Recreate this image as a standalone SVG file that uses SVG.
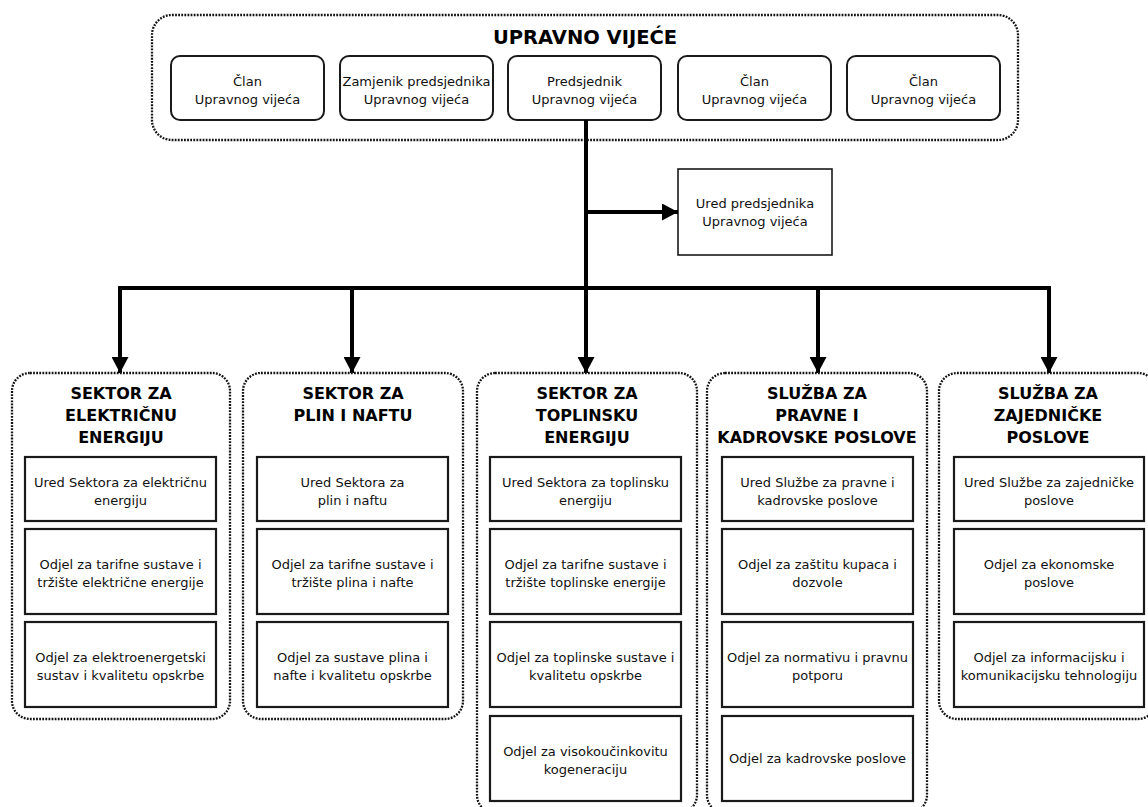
<svg xmlns="http://www.w3.org/2000/svg" width="1148" height="807" viewBox="0 0 1148 807">
<defs>
<style>
.dot{fill:none;stroke:#111;stroke-width:2.3;stroke-dasharray:1.8 1.3}
.mem{fill:#fff;stroke:#1a1a1a;stroke-width:2}
.box{fill:#fff;stroke:#1a1a1a;stroke-width:2.2}
.t{font-family:"DejaVu Sans",Verdana,sans-serif;font-size:13px;fill:#111;text-anchor:middle}
.ts{font-size:13px}
.h{font-family:"DejaVu Sans",Verdana,sans-serif;font-weight:bold;font-size:16px;fill:#000;text-anchor:middle}
.conn{stroke:#000;stroke-width:4;fill:none}
</style>
<marker id="ah" markerUnits="userSpaceOnUse" markerWidth="16" markerHeight="17" viewBox="0 0 16 17" refX="16" refY="8.5" orient="auto">
<path d="M0,0 L16,8.5 L0,17 Z" fill="#000"/>
</marker>
</defs>
<rect width="1148" height="807" fill="#fff"/>

<g id="upravno-vijece">
<rect class="dot" x="152" y="15" width="866" height="125" rx="20"/>
<text class="h" x="585" y="44" style="font-size:19.5px">UPRAVNO VIJEĆE</text>
</g>
<g id="clan1"><rect class="mem" x="171" y="56" width="153" height="64" rx="9"/><text class="t ts" x="247.5" y="86">Član</text><text class="t ts" x="247.5" y="104">Upravnog vijeća</text></g>
<g id="zamjenik"><rect class="mem" x="340" y="56" width="153" height="64" rx="9"/><text class="t ts" x="416.5" y="86">Zamjenik predsjednika</text><text class="t ts" x="416.5" y="104">Upravnog vijeća</text></g>
<g id="predsjednik"><rect class="mem" x="508" y="56" width="153" height="64" rx="9"/><text class="t ts" x="584.5" y="86">Predsjednik</text><text class="t ts" x="584.5" y="104">Upravnog vijeća</text></g>
<g id="clan2"><rect class="mem" x="678" y="56" width="153" height="64" rx="9"/><text class="t ts" x="754.5" y="86">Član</text><text class="t ts" x="754.5" y="104">Upravnog vijeća</text></g>
<g id="clan3"><rect class="mem" x="847" y="56" width="153" height="64" rx="9"/><text class="t ts" x="923.5" y="86">Član</text><text class="t ts" x="923.5" y="104">Upravnog vijeća</text></g>

<g id="ured-predsjednika"><rect x="678" y="169" width="154" height="86" fill="#fff" stroke="#1a1a1a" stroke-width="1.6"/><text class="t ts" x="755" y="208">Ured predsjednika</text><text class="t ts" x="755" y="226">Upravnog vijeća</text></g>

<g id="connectors">
<path class="conn" d="M586,120 V373" marker-end="url(#ah)"/>
<path class="conn" d="M586,212 H678" marker-end="url(#ah)"/>
<path class="conn" d="M118,288 H1051"/>
<path class="conn" d="M120,286 V373" marker-end="url(#ah)"/>
<path class="conn" d="M352,288 V373" marker-end="url(#ah)"/>
<path class="conn" d="M818,288 V373" marker-end="url(#ah)"/>
<path class="conn" d="M1049,286 V373" marker-end="url(#ah)"/>
</g>

<g id="sektor-elektricna">
<rect class="dot" x="12" y="373" width="218" height="346" rx="18"/>
<text class="h" x="121" y="399">SEKTOR ZA</text><text class="h" x="121" y="421">ELEKTRIČNU</text><text class="h" x="121" y="443">ENERGIJU</text>
<rect class="box" x="25" y="457" width="191" height="64"/><text class="t" x="120.5" y="486.5">Ured Sektora za električnu</text><text class="t" x="120.5" y="504.5">energiju</text>
<rect class="box" x="25" y="529" width="191" height="85"/><text class="t" x="120.5" y="569">Odjel za tarifne sustave i</text><text class="t" x="120.5" y="587">tržište električne energije</text>
<rect class="box" x="25" y="622" width="191" height="85"/><text class="t" x="120.5" y="662">Odjel za elektroenergetski</text><text class="t" x="120.5" y="680">sustav i kvalitetu opskrbe</text>
</g>

<g id="sektor-plin">
<rect class="dot" x="243" y="373" width="220" height="346" rx="18"/>
<text class="h" x="353" y="399">SEKTOR ZA</text><text class="h" x="353" y="421">PLIN I NAFTU</text>
<rect class="box" x="257" y="457" width="191" height="64"/><text class="t" x="352.5" y="486.5">Ured Sektora za</text><text class="t" x="352.5" y="504.5">plin i naftu</text>
<rect class="box" x="257" y="529" width="191" height="85"/><text class="t" x="352.5" y="569">Odjel za tarifne sustave i</text><text class="t" x="352.5" y="587">tržište plina i nafte</text>
<rect class="box" x="257" y="622" width="191" height="85"/><text class="t" x="352.5" y="662">Odjel za sustave plina i</text><text class="t" x="352.5" y="680">nafte i kvalitetu opskrbe</text>
</g>

<g id="sektor-toplinska">
<rect class="dot" x="477" y="373" width="220" height="440" rx="18"/>
<text class="h" x="587" y="399">SEKTOR ZA</text><text class="h" x="587" y="421">TOPLINSKU</text><text class="h" x="587" y="443">ENERGIJU</text>
<rect class="box" x="490" y="457" width="191" height="64"/><text class="t" x="585.5" y="486.5">Ured Sektora za toplinsku</text><text class="t" x="585.5" y="504.5">energiju</text>
<rect class="box" x="490" y="529" width="191" height="85"/><text class="t" x="585.5" y="569">Odjel za tarifne sustave i</text><text class="t" x="585.5" y="587">tržište toplinske energije</text>
<rect class="box" x="490" y="622" width="191" height="85"/><text class="t" x="585.5" y="662">Odjel za toplinske sustave i</text><text class="t" x="585.5" y="680">kvalitetu opskrbe</text>
<rect class="box" x="490" y="716" width="191" height="85"/><text class="t" x="585.5" y="756">Odjel za visokoučinkovitu</text><text class="t" x="585.5" y="774">kogeneraciju</text>
</g>

<g id="sluzba-pravne">
<rect class="dot" x="707" y="373" width="220" height="440" rx="18"/>
<text class="h" x="817" y="399">SLUŽBA ZA</text><text class="h" x="817" y="421">PRAVNE I</text><text class="h" x="817" y="443">KADROVSKE POSLOVE</text>
<rect class="box" x="722" y="457" width="191" height="64"/><text class="t" x="817.5" y="486.5">Ured Službe za pravne i</text><text class="t" x="817.5" y="504.5">kadrovske poslove</text>
<rect class="box" x="722" y="529" width="191" height="85"/><text class="t" x="817.5" y="569">Odjel za zaštitu kupaca i</text><text class="t" x="817.5" y="587">dozvole</text>
<rect class="box" x="722" y="622" width="191" height="85"/><text class="t" x="817.5" y="662">Odjel za normativu i pravnu</text><text class="t" x="817.5" y="680">potporu</text>
<rect class="box" x="722" y="716" width="191" height="85"/><text class="t" x="817.5" y="763">Odjel za kadrovske poslove</text>
</g>

<g id="sluzba-zajednicke">
<rect class="dot" x="939" y="373" width="217" height="346" rx="18"/>
<text class="h" x="1048" y="399">SLUŽBA ZA</text><text class="h" x="1048" y="421">ZAJEDNIČKE</text><text class="h" x="1048" y="443">POSLOVE</text>
<rect class="box" x="954" y="457" width="190" height="64"/><text class="t" x="1049" y="486.5">Ured Službe za zajedničke</text><text class="t" x="1049" y="504.5">poslove</text>
<rect class="box" x="954" y="529" width="190" height="85"/><text class="t" x="1049" y="569">Odjel za ekonomske</text><text class="t" x="1049" y="587">poslove</text>
<rect class="box" x="954" y="622" width="190" height="85"/><text class="t" x="1049" y="662">Odjel za informacijsku i</text><text class="t" x="1049" y="680">komunikacijsku tehnologiju</text>
</g>
</svg>
